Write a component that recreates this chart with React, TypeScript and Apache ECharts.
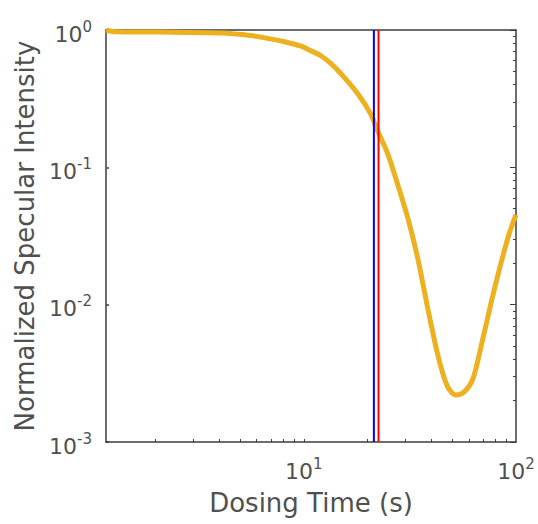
import React, { useEffect, useRef } from 'react';
import * as echarts from 'echarts';

// ---- data ----
const dosingTime = [1.17, 1.29, 2.1, 4.05, 5.6, 6.96, 8.2, 9.64, 10.75, 12.0, 13.4, 14.9, 17.9, 20.6, 22.2, 24.8, 27.6, 30.8, 34.3, 36.9, 39.7, 43.4, 47.6, 52.1, 57.0, 62.4, 68.4, 76.2, 84.9, 93.0, 100];
const intensity = [1.0, 0.972, 0.967, 0.951, 0.912, 0.862, 0.818, 0.765, 0.709, 0.652, 0.572, 0.484, 0.346, 0.247, 0.187, 0.127, 0.0765, 0.0437, 0.0224, 0.0128, 0.00731, 0.00395, 0.00253, 0.0022, 0.00232, 0.00283, 0.00494, 0.0102, 0.02, 0.0331, 0.045];
const blueLineX = 21.4;
const redLineX = 22.5;
const xRange = [1.17, 100];
const yRange = [0.001, 1];
const xMajorTicks = [10, 100];
const xMinorTicks = [2, 3, 4, 5, 6, 7, 8, 9, 10, 20, 30, 40, 50, 60, 70, 80, 90];
const yMajorTicks = [0.001, 0.01, 0.1, 1];
const yMinorTicks = [
  0.002, 0.003, 0.004, 0.005, 0.006, 0.007, 0.008, 0.009,
  0.02, 0.03, 0.04, 0.05, 0.06, 0.07, 0.08, 0.09,
  0.2, 0.3, 0.4, 0.5, 0.6, 0.7, 0.8, 0.9,
];
const xTitle = 'Dosing Time (s)';
const yTitle = 'Normalized Specular Intensity';

const FONT = 'DejaVu Sans';
const TXT = '#505050';
const AX = '#3c3c3c';

const powLabel = (v: number) => {
  const e = Math.round(Math.log10(v));
  return `{b|10}{s|${e}}`;
};
const rich = {
  b: { fontSize: 22, fontFamily: FONT, color: TXT, lineHeight: 30 },
  s: { fontSize: 15, fontFamily: FONT, color: TXT, lineHeight: 14, verticalAlign: 'top' },
};

export default function App() {
  const ref = useRef<HTMLDivElement>(null);
  useEffect(() => {
    document.body.style.margin = '0';
    const chart = echarts.init(ref.current!, null, { renderer: 'svg' });
    const axLine = { show: true, onZero: false, lineStyle: { color: AX, width: 1.5 } };
    chart.setOption({
      animation: false,
      backgroundColor: '#ffffff',
      grid: { left: 106, top: 30, right: 22, bottom: 82, containLabel: false },
      xAxis: [
        {
          type: 'log', logBase: 10, min: xRange[0], max: xRange[1], position: 'bottom',
          axisLine: axLine,
          axisTick: { show: true, inside: true, length: 3, customValues: xMinorTicks, lineStyle: { color: AX, width: 1 } },
          axisLabel: { show: true, customValues: xMajorTicks, formatter: powLabel, rich, margin: 14, fontFamily: FONT, color: TXT },
          splitLine: { show: false },
          minorTick: { show: false },
          name: xTitle, nameLocation: 'middle', nameGap: 48,
          nameTextStyle: { fontFamily: FONT, fontSize: 26, color: TXT },
        },
        {
          type: 'log', logBase: 10, min: xRange[0], max: xRange[1], position: 'top',
          axisLine: axLine, axisTick: { show: false }, axisLabel: { show: false }, splitLine: { show: false },
        },
      ],
      yAxis: [
        {
          type: 'log', logBase: 10, min: yRange[0], max: yRange[1], position: 'left',
          axisLine: axLine,
          axisTick: { show: true, inside: true, length: 3, customValues: yMajorTicks, lineStyle: { color: AX, width: 1.5 } },
          axisLabel: { show: true, customValues: yMajorTicks, formatter: powLabel, rich, margin: 14, padding: [8, 0, 0, 0], fontFamily: FONT, color: TXT },
          splitLine: { show: false },
          name: yTitle, nameLocation: 'middle', nameGap: 64,
          nameTextStyle: { fontFamily: FONT, fontSize: 26, color: TXT },
        },
        {
          type: 'log', logBase: 10, min: yRange[0], max: yRange[1], position: 'right',
          axisLine: axLine,
          axisTick: { show: true, inside: true, length: 3, customValues: yMinorTicks, lineStyle: { color: AX, width: 1 } },
          axisLabel: { show: false }, splitLine: { show: false },
        },
        {
          type: 'log', logBase: 10, min: yRange[0], max: yRange[1], position: 'right',
          axisLine: { show: false },
          axisTick: { show: true, inside: true, length: 6, customValues: yMajorTicks, lineStyle: { color: AX, width: 1 } },
          axisLabel: { show: false }, splitLine: { show: false },
        },
      ],
      series: [
        {
          type: 'line', xAxisIndex: 0, yAxisIndex: 0,
          data: dosingTime.map((t, i) => [t, intensity[i]]),
          showSymbol: false, symbol: 'none', smooth: 0.3,
          lineStyle: { color: '#EDB120', width: 5 }, z: 2,
        },
        {
          type: 'line', xAxisIndex: 0, yAxisIndex: 0,
          data: [[blueLineX, yRange[0]], [blueLineX, yRange[1]]],
          symbol: 'none', lineStyle: { color: '#0000FF', width: 2 }, z: 3,
        },
        {
          type: 'line', xAxisIndex: 0, yAxisIndex: 0,
          data: [[redLineX, yRange[0]], [redLineX, yRange[1]]],
          symbol: 'none', lineStyle: { color: '#FF0000', width: 2 }, z: 3,
        },
      ],
    });
    return () => chart.dispose();
  }, []);
  return <div ref={ref} style={{ width: 538, height: 524 }} />;
}
